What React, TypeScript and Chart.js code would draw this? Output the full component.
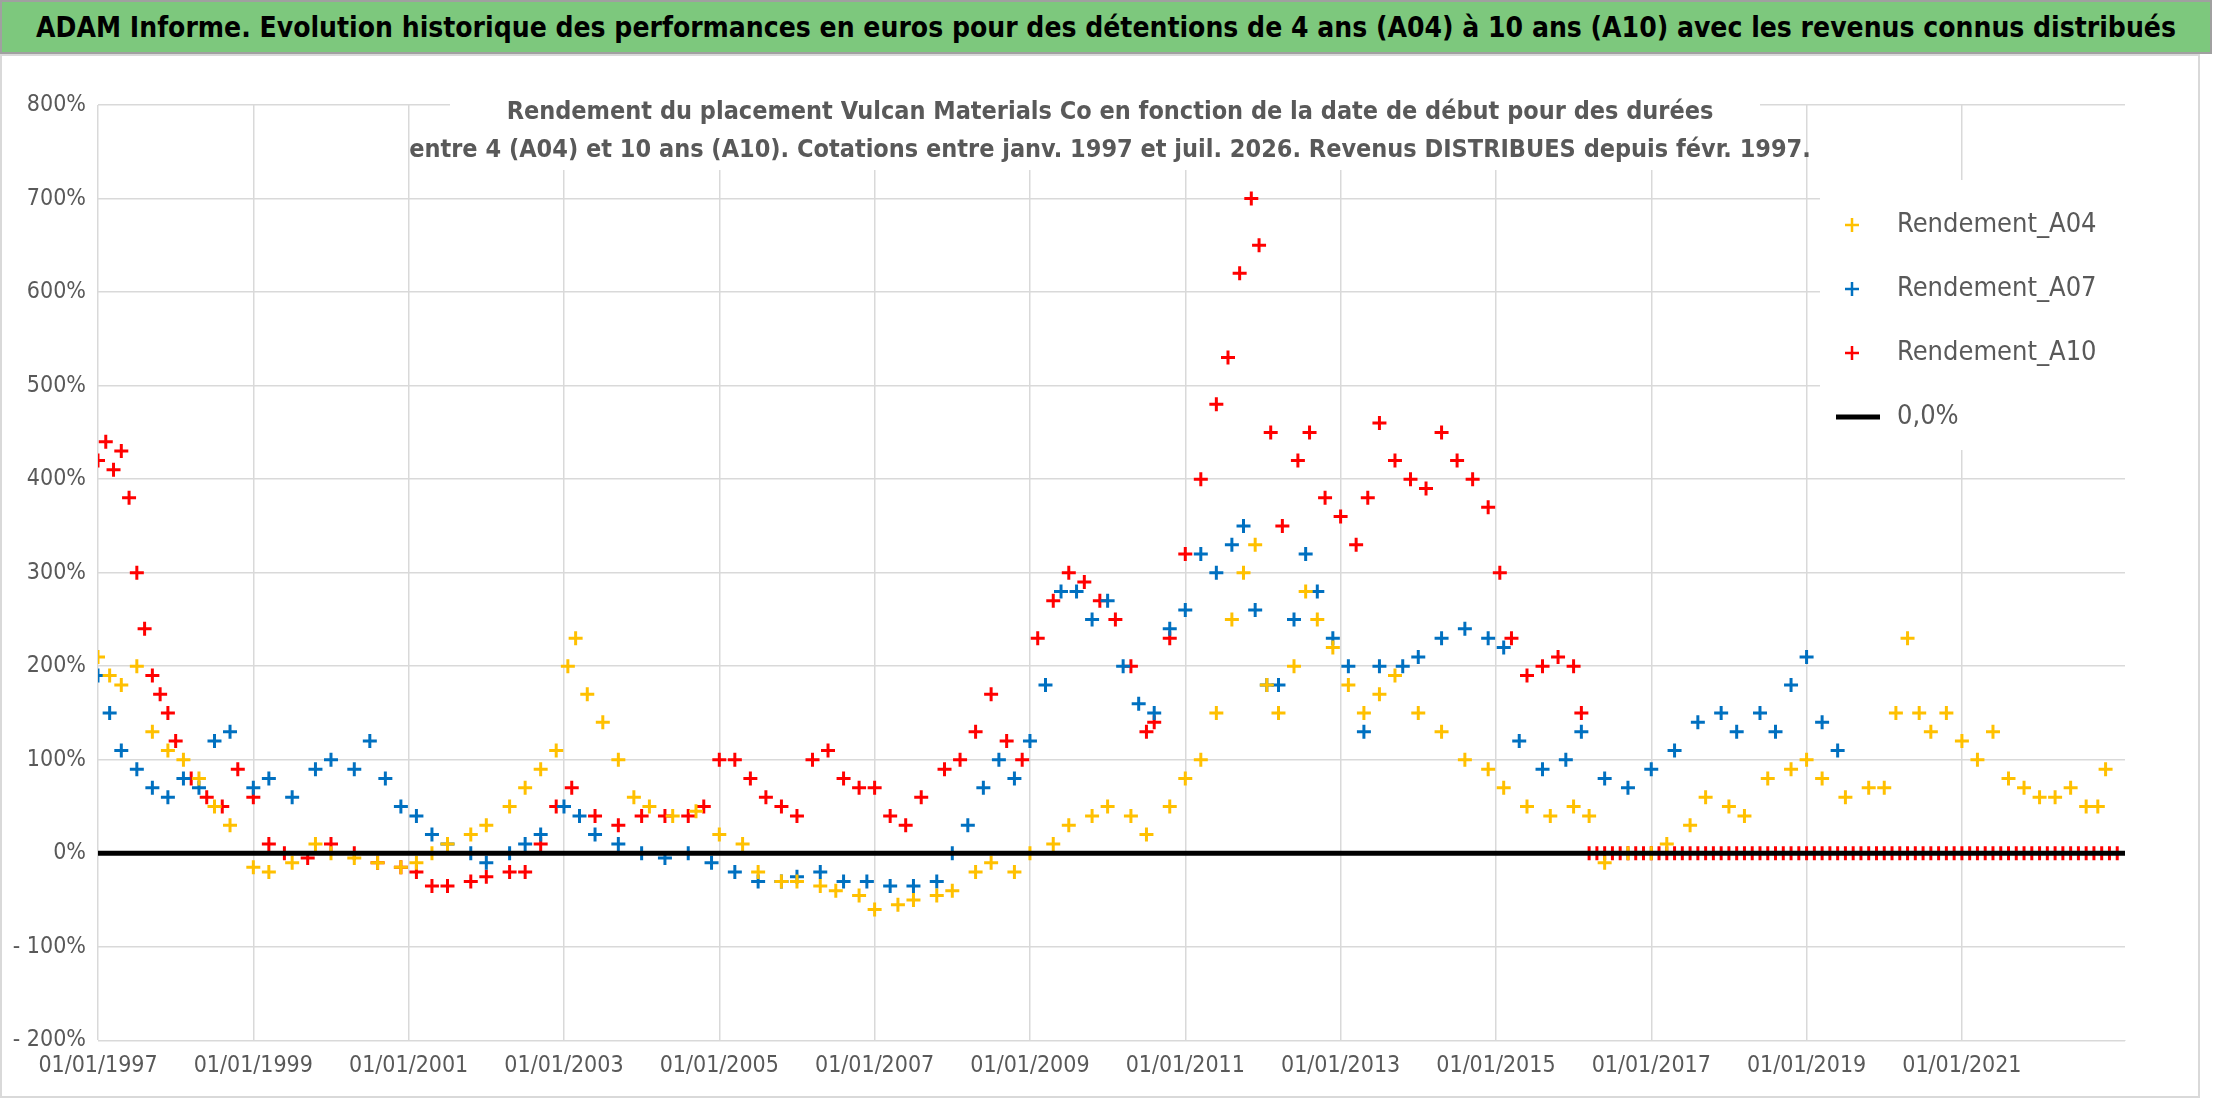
import React, { useEffect, useRef } from "react";
import { Chart, registerables } from "chart.js";
Chart.register(...registerables);

const A04_x = [1997.0,1997.15,1997.3,1997.5,1997.7,1997.9,1998.1,1998.3,1998.5,1998.7,1999.0,1999.2,1999.5,1999.8,2000.0,2000.3,2000.6,2000.9,2001.1,2001.3,2001.5,2001.8,2002.0,2002.3,2002.5,2002.7,2002.9,2003.05,2003.15,2003.3,2003.5,2003.7,2003.9,2004.1,2004.4,2004.7,2005.0,2005.3,2005.5,2005.8,2006.0,2006.3,2006.5,2006.8,2007.0,2007.3,2007.5,2007.8,2008.0,2008.3,2008.5,2008.8,2009.0,2009.3,2009.5,2009.8,2010.0,2010.3,2010.5,2010.8,2011.0,2011.2,2011.4,2011.6,2011.75,2011.9,2012.05,2012.2,2012.4,2012.55,2012.7,2012.9,2013.1,2013.3,2013.5,2013.7,2014.0,2014.3,2014.6,2014.9,2015.1,2015.4,2015.7,2016.0,2016.2,2016.4,2016.7,2017.0,2017.2,2017.5,2017.7,2018.0,2018.2,2018.5,2018.8,2019.0,2019.2,2019.5,2019.8,2020.0,2020.15,2020.3,2020.45,2020.6,2020.8,2021.0,2021.2,2021.4,2021.6,2021.8,2022.0,2022.2,2022.4,2022.6,2022.75,2022.85];
const A04_y = [210,190,180,200,130,110,100,80,50,30,-15,-20,-10,10,0,-5,-10,-15,-10,0,10,20,30,50,70,90,110,200,230,170,140,100,60,50,40,45,20,10,-20,-30,-30,-35,-40,-45,-60,-55,-50,-45,-40,-20,-10,-20,0,10,30,40,50,40,20,50,80,100,150,250,300,330,180,150,200,280,250,220,180,150,170,190,150,130,100,90,70,50,40,50,40,-10,0,0,10,30,60,50,40,80,90,100,80,60,70,70,150,230,150,130,150,120,100,130,80,70,60,60,70,50,50,90];

const A07_x = [1997.0,1997.15,1997.3,1997.5,1997.7,1997.9,1998.1,1998.3,1998.5,1998.7,1999.0,1999.2,1999.5,1999.8,2000.0,2000.3,2000.5,2000.7,2000.9,2001.1,2001.3,2001.5,2001.8,2002.0,2002.3,2002.5,2002.7,2003.0,2003.2,2003.4,2003.7,2004.0,2004.3,2004.6,2004.9,2005.2,2005.5,2005.8,2006.0,2006.3,2006.6,2006.9,2007.2,2007.5,2007.8,2008.0,2008.2,2008.4,2008.6,2008.8,2009.0,2009.2,2009.4,2009.6,2009.8,2010.0,2010.2,2010.4,2010.6,2010.8,2011.0,2011.2,2011.4,2011.6,2011.75,2011.9,2012.05,2012.2,2012.4,2012.55,2012.7,2012.9,2013.1,2013.3,2013.5,2013.8,2014.0,2014.3,2014.6,2014.9,2015.1,2015.3,2015.6,2015.9,2016.1,2016.4,2016.7,2017.0,2017.3,2017.6,2017.9,2018.1,2018.4,2018.6,2018.8,2019.0,2019.2,2019.4];
const A07_y = [190,150,110,90,70,60,80,70,120,130,70,80,60,90,100,90,120,80,50,40,20,10,0,-10,0,10,20,50,40,20,10,0,-5,0,-10,-20,-30,-30,-25,-20,-30,-30,-35,-35,-30,0,30,70,100,80,120,180,280,280,250,270,200,160,150,240,260,320,300,330,350,260,180,180,250,320,280,230,200,130,200,200,210,230,240,230,220,120,90,100,130,80,70,90,110,140,150,130,150,130,180,210,140,110];

const A10_x = [1997.0,1997.1,1997.2,1997.3,1997.4,1997.5,1997.6,1997.7,1997.8,1997.9,1998.0,1998.2,1998.4,1998.6,1998.8,1999.0,1999.2,1999.4,1999.7,2000.0,2000.3,2000.6,2000.9,2001.1,2001.3,2001.5,2001.8,2002.0,2002.3,2002.5,2002.7,2002.9,2003.1,2003.4,2003.7,2004.0,2004.3,2004.6,2004.8,2005.0,2005.2,2005.4,2005.6,2005.8,2006.0,2006.2,2006.4,2006.6,2006.8,2007.0,2007.2,2007.4,2007.6,2007.9,2008.1,2008.3,2008.5,2008.7,2008.9,2009.1,2009.3,2009.5,2009.7,2009.9,2010.1,2010.3,2010.5,2010.6,2010.8,2011.0,2011.2,2011.4,2011.55,2011.7,2011.85,2011.95,2012.1,2012.25,2012.45,2012.6,2012.8,2013.0,2013.2,2013.35,2013.5,2013.7,2013.9,2014.1,2014.3,2014.5,2014.7,2014.9,2015.05,2015.2,2015.4,2015.6,2015.8,2016.0,2016.1];
const A10_y = [420,440,410,430,380,300,240,190,170,150,120,80,60,50,90,60,10,0,-5,10,0,-10,-15,-20,-35,-35,-30,-25,-20,-20,10,50,70,40,30,40,40,40,50,100,100,80,60,50,40,100,110,80,70,70,40,30,60,90,100,130,170,120,100,230,270,300,290,270,250,200,130,140,230,320,400,480,530,620,700,650,450,350,420,450,380,360,330,380,460,420,400,390,450,420,400,370,300,230,190,200,210,200,150];

const A10z_x = [2016.2,2016.3,2016.4,2016.5,2016.6,2016.7,2016.8,2016.9,2017.0,2017.1,2017.2,2017.3,2017.4,2017.5,2017.6,2017.7,2017.8,2017.9,2018.0,2018.1,2018.2,2018.3,2018.4,2018.5,2018.6,2018.7,2018.8,2018.9,2019.0,2019.1,2019.2,2019.3,2019.4,2019.5,2019.6,2019.7,2019.8,2019.9,2020.0,2020.1,2020.2,2020.3,2020.4,2020.5,2020.6,2020.7,2020.8,2020.9,2021.0,2021.1,2021.2,2021.3,2021.4,2021.5,2021.6,2021.7,2021.8,2021.9,2022.0,2022.1,2022.2,2022.3,2022.4,2022.5,2022.6,2022.7,2022.8,2022.9,2023.0];
const A10z_y = [0,0,0,0,0,0,0,0,0,0,0,0,0,0,0,0,0,0,0,0,0,0,0,0,0,0,0,0,0,0,0,0,0,0,0,0,0,0,0,0,0,0,0,0,0,0,0,0,0,0,0,0,0,0,0,0,0,0,0,0,0,0,0,0,0,0,0,0,0];

const zero_x = [1997.0, 2023.1];
const zero_y = [0, 0];

const TITLE = "ADAM Informe. Evolution historique des performances en euros pour des détentions de 4 ans (A04) à 10 ans (A10) avec les revenus connus distribués";
const SUB1 = "Rendement du placement Vulcan Materials Co en fonction de la date de début pour des durées";
const SUB2 = "entre 4 (A04) et 10 ans (A10). Cotations entre janv. 1997 et juil. 2026. Revenus DISTRIBUES depuis févr. 1997.";

const FONT = "'DejaVu Sans Condensed', 'Liberation Sans Narrow', sans-serif";
const pts = (xs: number[], ys: number[]) => xs.map((x, i) => ({ x, y: ys[i] }));

export default function App() {
  const ref = useRef<HTMLCanvasElement>(null);
  useEffect(() => {
    document.body.style.margin = "0";
    const mk = (label: string, xs: number[], ys: number[], c: string) => ({
      label, data: pts(xs, ys), borderColor: c, backgroundColor: c,
      pointStyle: "cross", pointRadius: 7, borderWidth: 3, showLine: false,
    });
    const chart = new Chart(ref.current!, {
      type: "scatter",
      data: {
        datasets: [
          { label: "0,0%", data: pts(zero_x, zero_y), borderColor: "#000", borderWidth: 5, showLine: true, pointRadius: 0 } as any,
          mk("Rendement_A04", A04_x, A04_y, "#FFC000"),
          mk("Rendement_A07", A07_x, A07_y, "#0070C0"),
          mk("Rendement_A10", A10_x, A10_y, "#FF0000"),
          mk("Rendement_A10z", A10z_x, A10z_y, "#FF0000"),
        ],
      },
      options: {
        animation: false, responsive: false,
        layout: { padding: { left: 0, right: 75, top: 105, bottom: 4 } },
        plugins: { legend: { display: false }, tooltip: { enabled: false } },
        scales: {
          x: {
            type: "linear", min: 1997, max: 2023.1,
            afterBuildTicks: (s: any) => { s.ticks = [1997,1999,2001,2003,2005,2007,2009,2011,2013,2015,2017,2019,2021].map(v => ({ value: v })); },
            ticks: { callback: (v: any) => "01/01/" + v, color: "#595959", font: { size: 23, family: FONT }, maxRotation: 0, padding: 12 },
            grid: { color: "#d9d9d9", lineWidth: 1.5, drawTicks: false },
            border: { color: "#d9d9d9" },
          },
          y: {
            min: -200, max: 800,
            ticks: { stepSize: 100, callback: (v: any) => (v < 0 ? "- " + (-v) : v) + "%", color: "#595959", font: { size: 23, family: FONT }, padding: 12 },
            grid: { color: "#d9d9d9", lineWidth: 1.5, drawTicks: false },
            border: { display: false },
            afterFit: (s: any) => { s.width = 98; },
          },
        },
      },
      plugins: [{
        id: "deco",
        beforeDatasetsDraw(c: any) {
          const ctx = c.ctx;
          ctx.save();
          ctx.fillStyle = "#fff";
          ctx.fillRect(450, 92, 1310, 78);
          ctx.fillRect(1820, 180, 320, 270);
          ctx.restore();
        },
        afterDraw(c: any) {
          const ctx = c.ctx;
          ctx.save();
          ctx.fillStyle = "#595959";
          ctx.font = "bold 25px " + FONT;
          ctx.textAlign = "center";
          ctx.textBaseline = "middle";
          ctx.fillText(SUB1, 1110, 112);
          ctx.fillText(SUB2, 1110, 150);
          ctx.textAlign = "left";
          ctx.font = "27px " + FONT;
          const items = [["Rendement_A04", "#FFC000"], ["Rendement_A07", "#0070C0"], ["Rendement_A10", "#FF0000"], ["0,0%", "#000"]];
          items.forEach(([t, col], i) => {
            const y = 225 + i * 64;
            ctx.strokeStyle = col;
            if (i < 3) {
              ctx.lineWidth = 2.5;
              ctx.beginPath();
              ctx.moveTo(1845, y); ctx.lineTo(1859, y);
              ctx.moveTo(1852, y - 7); ctx.lineTo(1852, y + 7);
              ctx.stroke();
            } else {
              ctx.lineWidth = 5;
              ctx.beginPath(); ctx.moveTo(1836, y); ctx.lineTo(1880, y); ctx.stroke();
            }
            ctx.fillStyle = "#595959";
            ctx.fillText(t, 1897, y);
          });
          ctx.restore();
        },
      }],
    } as any);
    return () => chart.destroy();
  }, []);
  return (
    <div style={{ position: "relative", width: 2216, height: 1102, background: "#fff", overflow: "hidden" }}>
      <div style={{ position: "absolute", left: 0, top: 0, width: 2212, height: 54, background: "#7DC87D", border: "2px solid #a0a0a0", display: "flex", alignItems: "center", justifyContent: "center", fontFamily: FONT, fontWeight: "bold", fontSize: 28, color: "#000", boxSizing: "border-box", whiteSpace: "nowrap" }}>{TITLE}</div>
      <div style={{ position: "absolute", left: 0, top: 54, width: 2200, height: 1044, border: "2px solid #d9d9d9", boxSizing: "border-box" }} />
      <canvas ref={ref} width={2200} height={1096} style={{ position: "absolute", left: 0, top: 0 }} />
    </div>
  );
}
